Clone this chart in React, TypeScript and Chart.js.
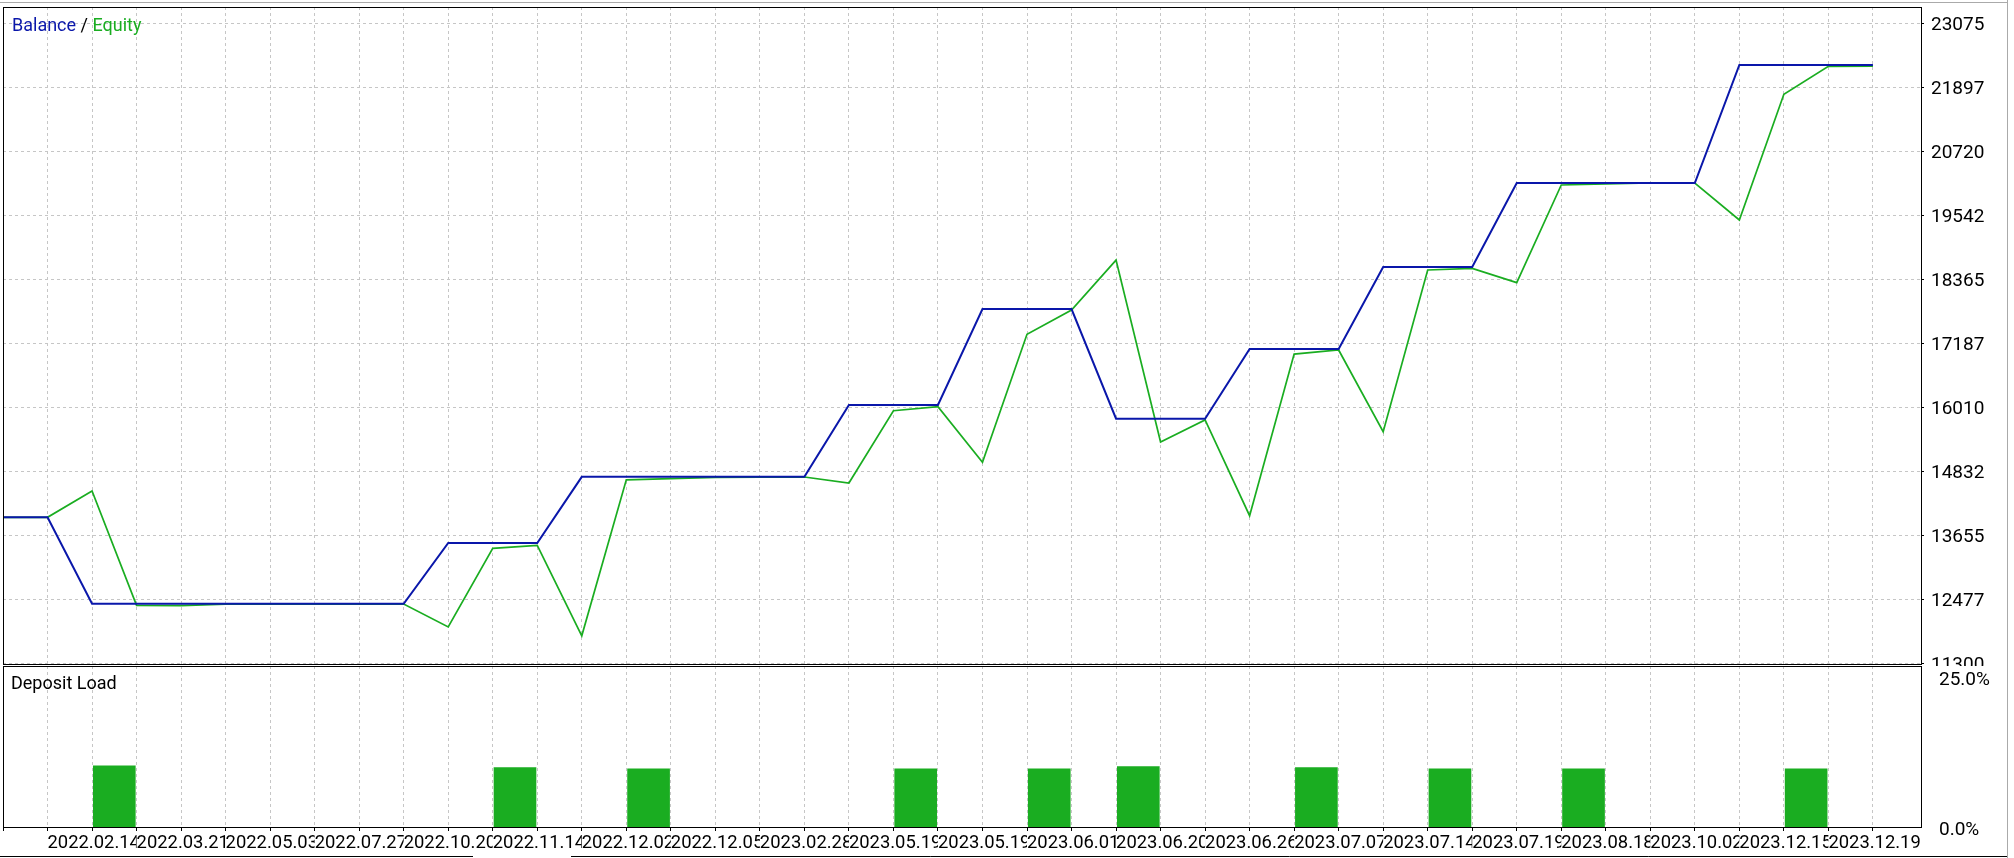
import React, { useEffect, useRef } from 'react';
import { Chart, registerables } from 'chart.js';

Chart.register(...registerables);

// ---------- data ----------
// date labels shown under every second point (points 1, 3, 5, ...)
const xLabels = [
  '2022.02.14', '2022.03.21', '2022.05.03', '2022.07.27', '2022.10.20', '2022.11.14',
  '2022.12.02', '2022.12.05', '2023.02.28', '2023.05.19', '2023.05.19', '2023.06.01',
  '2023.06.20', '2023.06.26', '2023.07.07', '2023.07.14', '2023.07.19', '2023.08.18',
  '2023.10.02', '2023.12.15', '2023.12.19',
];

const balance = [
  13986, 13986, 12396, 12396, 12396, 12396, 12396, 12396, 12396, 12396,
  13513, 13513, 13513, 14730, 14730, 14730, 14730, 14730, 14730, 16052,
  16052, 16052, 17818, 17818, 17818, 15800, 15800, 15800, 17082, 17082,
  17082, 18591, 18591, 18591, 20137, 20137, 20137, 20137, 20137, 22308,
  22308, 22308, 22308,
];

const equity = [
  13986, 13986, 14470, 12367, 12362, 12390, 12390, 12390, 12390, 12390,
  11968, 13414, 13468, 11805, 14675, 14696, 14720, 14725, 14728, 14617,
  15947, 16021, 14998, 17353, 17800, 18719, 15372, 15776, 14015, 16990,
  17064, 15561, 18536, 18567, 18303, 20100, 20122, 20137, 20137, 19456,
  21769, 22284, 22288,
];

// deposit load bars: point index where the bar starts, and load in %
const loadIndex = [2, 11, 14, 20, 23, 25, 29, 32, 35, 40];
const loadValues = [10.2, 9.9, 9.7, 9.7, 9.7, 10.05, 9.9, 9.7, 9.7, 9.7];

const priceTickValues = [11300, 12477.5, 13655, 14832.5, 16010, 17187.5, 18365, 19542.5, 20720, 21897.5, 23075];
const priceTickLabels = ['11300', '12477', '13655', '14832', '16010', '17187', '18365', '19542', '20720', '21897', '23075'];
const loadTickValues = [0, 25];
const loadTickLabels = ['0.0%', '25.0%'];

// ---------- style ----------
const BLUE = '#0a17aa';
const GREEN = '#1aad21';
const GRID = '#c6c6c6';
const FONT_FAMILY = 'Roboto, "DejaVu Sans", sans-serif';
const FONT_SIZE = 18;
const TICK_FONT_SIZE = 19;
const X_TICK_FONT_SIZE = 18.4;

const W = 2014;
const TOP_H = 690;
const BOT_Y = 666;
const BOT_H = 192;
const LEFT = 3;
const AXIS_W = 93; // plot right edge at 1921
const X_MAX = 43.08;
const Y_MIN = 11287;
const Y_MAX = 23375;
const LOAD_MAX = 26.83;

export default function App() {
  const topRef = useRef<HTMLCanvasElement>(null);
  const botRef = useRef<HTMLCanvasElement>(null);

  useEffect(() => {
    document.body.style.margin = '0';
    document.body.style.overflow = 'hidden';
    const font = { family: FONT_FAMILY, size: TICK_FONT_SIZE };
    const xFont = { family: FONT_FAMILY, size: X_TICK_FONT_SIZE };
    const xTicks = (s: any) => {
      s.ticks = balance.map((_, i) => ({ value: i }));
    };

    const topPlugin = {
      id: 'topFrame',
      beforeDraw(chart: any) {
        const c = chart.ctx;
        c.save();
        c.fillStyle = '#fff';
        c.fillRect(0, 0, chart.width, chart.height);
        c.restore();
      },
      afterDraw(chart: any) {
        const c = chart.ctx;
        const a = chart.chartArea;
        c.save();
        c.strokeStyle = '#000';
        c.lineWidth = 1;
        c.strokeRect(Math.round(a.left) + 0.5, Math.round(a.top) + 0.5, Math.round(a.right - a.left), Math.round(a.bottom - a.top));
        c.strokeStyle = '#aaaaaa';
        c.beginPath();
        c.moveTo(0, 2.5);
        c.lineTo(2008, 2.5);
        c.moveTo(2007.5, 0);
        c.lineTo(2007.5, chart.height);
        c.stroke();
        c.font = `${FONT_SIZE}px ${FONT_FAMILY}`;
        c.textBaseline = 'alphabetic';
        c.textAlign = 'left';
        let x = 12;
        const y = 31;
        const parts: [string, string][] = [['Balance', BLUE], [' / ', '#000'], ['Equity', GREEN]];
        for (const [t, col] of parts) {
          c.fillStyle = col;
          c.fillText(t, x, y);
          x += c.measureText(t).width;
        }
        c.restore();
      },
    };

    const botPlugin = {
      id: 'botFrame',
      beforeDraw(chart: any) {
        const c = chart.ctx;
        c.save();
        c.fillStyle = '#fff';
        c.fillRect(0, 0, chart.width, chart.height);
        c.restore();
      },
      afterDraw(chart: any) {
        const c = chart.ctx;
        const a = chart.chartArea;
        c.save();
        c.strokeStyle = '#000';
        c.lineWidth = 1;
        c.strokeRect(Math.round(a.left) + 0.5, Math.round(a.top) + 0.5, Math.round(a.right - a.left), Math.round(a.bottom - a.top));
        c.beginPath();
        c.moveTo(0, 190.5);
        c.lineTo(473, 190.5);
        c.moveTo(571, 190.5);
        c.lineTo(2008, 190.5);
        c.stroke();
        c.strokeStyle = '#aaaaaa';
        c.beginPath();
        c.moveTo(2007.5, 0);
        c.lineTo(2007.5, chart.height);
        c.stroke();
        c.font = `${FONT_SIZE}px ${FONT_FAMILY}`;
        c.fillStyle = '#000';
        c.textBaseline = 'alphabetic';
        c.textAlign = 'left';
        c.fillText('Deposit Load', 11, 23);
        c.restore();
      },
    };

    const top = new Chart(topRef.current as HTMLCanvasElement, {
      type: 'line',
      data: {
        datasets: [
          {
            label: 'Balance',
            data: balance.map((v, i) => ({ x: i, y: v })),
            borderColor: BLUE,
            borderWidth: 2,
            pointRadius: 0,
            tension: 0,
            fill: false,
          },
          {
            label: 'Equity',
            data: equity.map((v, i) => ({ x: i, y: v })),
            borderColor: GREEN,
            borderWidth: 1.7,
            pointRadius: 0,
            tension: 0,
            fill: false,
          },
        ],
      },
      options: {
        responsive: false,
        animation: false,
        events: [],
        layout: { padding: { left: LEFT, top: 7, right: 0, bottom: TOP_H - 664 } },
        plugins: { legend: { display: false }, tooltip: { enabled: false }, title: { display: false } },
        scales: {
          x: {
            type: 'linear',
            min: 0,
            max: X_MAX,
            afterBuildTicks: xTicks,
            ticks: { display: false },
            grid: { color: GRID, lineWidth: 1, drawTicks: false },
            border: { display: false, dash: [3, 3] },
            afterFit: (s: any) => {
              s.height = 0;
              s.paddingLeft = 0;
              s.paddingRight = 0;
            },
          },
          y: {
            type: 'linear',
            position: 'right',
            min: Y_MIN,
            max: Y_MAX,
            afterBuildTicks: (s: any) => {
              s.ticks = priceTickValues.map((v) => ({ value: v }));
            },
            ticks: {
              callback: (_v: any, i: number) => priceTickLabels[i],
              color: '#000',
              font,
              padding: 7,
              labelOffset: 2,
              crossAlign: 'near',
            },
            grid: { color: GRID, lineWidth: 1, drawTicks: true, tickLength: 3, tickColor: '#000', tickWidth: 1 },
            border: { display: false, dash: [3, 3] },
            afterFit: (s: any) => {
              s.width = AXIS_W;
              s.paddingTop = 0;
              s.paddingBottom = 0;
            },
          },
        },
      } as any,
      plugins: [topPlugin],
    });

    const bot = new Chart(botRef.current as HTMLCanvasElement, {
      type: 'bar',
      data: {
        datasets: [
          {
            label: 'Deposit Load',
            data: loadIndex.map((idx, k) => ({ x: idx + 0.5, y: loadValues[k] })),
            backgroundColor: GREEN,
            borderWidth: 0,
            barThickness: 42,
          },
        ],
      },
      options: {
        responsive: false,
        animation: false,
        events: [],
        layout: { padding: { left: LEFT, top: 0, right: 0, bottom: 0 } },
        plugins: { legend: { display: false }, tooltip: { enabled: false }, title: { display: false } },
        scales: {
          x: {
            type: 'linear',
            offset: false,
            min: 0,
            max: X_MAX,
            afterBuildTicks: xTicks,
            ticks: {
              autoSkip: false,
              maxRotation: 0,
              minRotation: 0,
              align: 'start',
              padding: 1,
              color: '#000',
              font: xFont,
              callback: (_v: any, i: number) => (i % 2 === 1 ? xLabels[(i - 1) / 2] ?? '' : ''),
              showLabelBackdrop: (ctx: any) => ctx.index % 2 === 1,
              backdropColor: '#ffffff',
              backdropPadding: 0,
            },
            grid: { offset: false, color: GRID, lineWidth: 1, drawTicks: true, tickLength: 4, tickColor: '#000', tickWidth: 1 },
            border: { display: false, dash: [3, 3] },
            afterFit: (s: any) => {
              s.height = 31;
              s.paddingLeft = 0;
              s.paddingRight = 0;
            },
          },
          y: {
            type: 'linear',
            position: 'right',
            min: 0,
            max: LOAD_MAX,
            afterBuildTicks: (s: any) => {
              s.ticks = loadTickValues.map((v) => ({ value: v }));
            },
            ticks: {
              callback: (_v: any, i: number) => loadTickLabels[i],
              color: '#000',
              font,
              padding: 10,
              labelOffset: 3,
              crossAlign: 'near',
            },
            grid: { display: false },
            border: { display: false },
            afterFit: (s: any) => {
              s.width = AXIS_W;
              s.paddingTop = 0;
              s.paddingBottom = 0;
            },
          },
        },
      } as any,
      plugins: [botPlugin],
    });

    return () => {
      top.destroy();
      bot.destroy();
    };
  }, []);

  return (
    <div style={{ position: 'absolute', left: 0, top: 0, width: W, height: 858, background: '#fff', overflow: 'hidden' }}>
      <canvas ref={topRef} width={W} height={TOP_H} style={{ position: 'absolute', left: 0, top: 0, display: 'block' }} />
      <canvas ref={botRef} width={W} height={BOT_H} style={{ position: 'absolute', left: 0, top: BOT_Y, display: 'block' }} />
    </div>
  );
}
